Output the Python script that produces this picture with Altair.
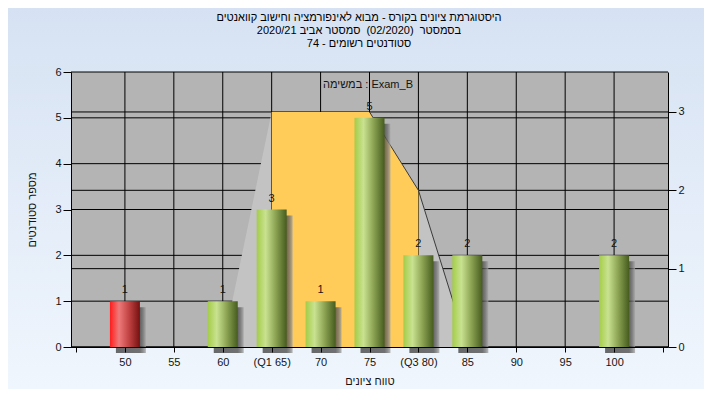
import altair as alt
import pandas as pd

# ---------------- data ----------------
scores = [50, 60, 65, 70, 75, 80, 85, 100]
counts = [1, 1, 3, 1, 5, 2, 2, 2]
is_fail = [True, False, False, False, False, False, False, False]

x_tick_values = [45, 50, 55, 60, 65, 70, 75, 80, 85, 90, 95, 100, 105]
x_tick_labels = ["", "50", "55", "60", "(Q1 65)", "70", "75", "(Q3 80)", "85", "90", "95", "100", ""]
x_grid_values = [50, 55, 60, 65, 70, 75, 80, 85, 90, 95, 100]
left_ticks = [0, 1, 2, 3, 4, 5, 6]
right_ticks = [0, 1, 2, 3]

# distribution overlay (right axis units)
spread_x = [60, 65, 75, 80, 85]
spread_y = [0, 3, 3, 2, 0]
iqr_x = [65, 75, 80]
iqr_y = [3, 3, 2]
edge_x = [75, 80, 85]
edge_y = [3, 2, 0]

title_lines = [
    "היסטוגרמת ציונים בקורס - מבוא לאינפורמציה וחישוב קוואנטים",
    "בסמסטר\u00a0 (02/2020)\u00a0 סמסטר אביב 2020/21",
    "סטודנטים רשומים - 74",
]
x_title = "טווח ציונים"
y_title = "מספר סטודנטים"
task_text = "במשימה : Exam_B"

# ---------------- styling ----------------
W, H = 597, 275
PAD = {"left": 63, "top": 64, "right": 36, "bottom": 42}
FONT = "Liberation Sans"
FS = 11
INK = "#141414"

bg_grad = alt.LinearGradient(
    gradient="linear", x1=0, x2=0, y1=0, y2=1,
    stops=[alt.GradientStop(offset=0, color="#d6e2f3"),
           alt.GradientStop(offset=1, color="#f0f6fd")])
red_grad = alt.LinearGradient(
    gradient="linear", x1=0, x2=1, y1=0, y2=0,
    stops=[alt.GradientStop(offset=0, color="#ff1c1c"),
           alt.GradientStop(offset=0.3, color="#ee7a7a"),
           alt.GradientStop(offset=0.65, color="#bf4040"),
           alt.GradientStop(offset=1, color="#741010")])
green_grad = alt.LinearGradient(
    gradient="linear", x1=0, x2=1, y1=0, y2=0,
    stops=[alt.GradientStop(offset=0, color="#a4cc48"),
           alt.GradientStop(offset=0.3, color="#c9e291"),
           alt.GradientStop(offset=0.65, color="#88a050"),
           alt.GradientStop(offset=1, color="#465c1e")])
shadow_grad = alt.LinearGradient(
    gradient="linear", x1=0, x2=1, y1=0, y2=0,
    stops=[alt.GradientStop(offset=0, color="#3a3a3a"),
           alt.GradientStop(offset=0.8, color="#454545"),
           alt.GradientStop(offset=0.9, color="#6c6c6c"),
           alt.GradientStop(offset=1, color="#a6a6a6")])

label_expr = "''"
for v, l in zip(reversed(x_tick_values), reversed(x_tick_labels)):
    label_expr = f"datum.value == {v} ? '{l}' : ({label_expr})"

xscale = alt.Scale(domain=[45, 105], nice=False, zero=False)
xaxis = alt.Axis(values=x_tick_values, labelExpr=label_expr, title=x_title,
                 grid=False, zindex=1, tickSize=5, labelPadding=4, titlePadding=8,
                 labelOverlap=False, labelFlush=False)
lscale = alt.Scale(domain=[0, 6], nice=False)
laxis = alt.Axis(values=left_ticks, orient="left", title=y_title, grid=False,
                 zindex=1, tickSize=8, labelPadding=2, titlePadding=17, format="d")
rscale = alt.Scale(domain=[0, 3.51], nice=False)
raxis = alt.Axis(values=right_ticks, orient="right", title=None, grid=False,
                 zindex=1, tickSize=8, labelPadding=2, format="d")

one = alt.Data(values=[{"k": 1}])

# ---------------- layer group 1: backgrounds + left grid ----------------
bg = alt.Chart(one).mark_rect(fill=bg_grad).encode(
    x=alt.value(-PAD["left"]), x2=alt.value(W + PAD["right"]),
    y=alt.value(-PAD["top"]), y2=alt.value(H + PAD["bottom"]))
plot_bg = alt.Chart(one).mark_rect(fill="#b4b4b4").encode(
    x=alt.value(0), x2=alt.value(W), y=alt.value(0), y2=alt.value(H))
hgrid_l = alt.Chart(pd.DataFrame({"v": left_ticks})).mark_rule(
    color="black", strokeWidth=1).encode(
    y=alt.Y("v:Q", scale=lscale, axis=laxis), x=alt.value(0), x2=alt.value(W))
g1 = alt.layer(bg, plot_bg, hgrid_l)

# ---------------- layer group 2: right axis overlay ----------------
hgrid_r = alt.Chart(pd.DataFrame({"r": right_ticks})).mark_rule(
    color="black", strokeWidth=1).encode(
    y=alt.Y("r:Q", scale=rscale, axis=raxis), x=alt.value(0), x2=alt.value(W))
spread = alt.Chart(pd.DataFrame({"sx": spread_x, "sy": spread_y})).mark_area(
    color="#c3c3c3", orient="vertical", opacity=1).encode(
    x=alt.X("sx:Q", scale=xscale, axis=xaxis),
    y=alt.Y("sy:Q", scale=rscale, axis=raxis))
vgrid = alt.Chart(pd.DataFrame({"gx": x_grid_values})).mark_rule(
    color="black", strokeWidth=1).encode(
    x=alt.X("gx:Q", scale=xscale, axis=xaxis), y=alt.value(0), y2=alt.value(H))
iqr = alt.Chart(pd.DataFrame({"sx": iqr_x, "sy": iqr_y})).mark_area(
    color="#ffcc5a", orient="vertical", opacity=1).encode(
    x=alt.X("sx:Q", scale=xscale, axis=xaxis),
    y=alt.Y("sy:Q", scale=rscale, axis=raxis))
edge = alt.Chart(pd.DataFrame({"sx": edge_x, "sy": edge_y})).mark_line(
    color="#3a3a3a", strokeWidth=1).encode(
    x=alt.X("sx:Q", scale=xscale, axis=xaxis),
    y=alt.Y("sy:Q", scale=rscale, axis=raxis))
g2 = alt.layer(hgrid_r, spread, vgrid, iqr, edge)

# ---------------- layer group 3: bars and texts ----------------
bars_df = pd.DataFrame({"score": scores, "count": counts, "fail": is_fail})
base = alt.Chart(bars_df)
enc = dict(x=alt.X("score:Q", scale=xscale, axis=xaxis),
           y=alt.Y("count:Q", scale=lscale, axis=None))
shadow = base.mark_bar(width=30, orient="vertical", fill=shadow_grad, opacity=0.75,
                       xOffset=6, yOffset=6, y2Offset=5).encode(**enc)
bars_fail = base.mark_bar(width=30, orient="vertical", fill=red_grad).encode(
    **enc).transform_filter("datum.fail")
bars_pass = base.mark_bar(width=30, orient="vertical", fill=green_grad).encode(
    **enc).transform_filter("!datum.fail")
values_txt = base.mark_text(font=FONT, fontSize=FS, color=INK, baseline="bottom",
                            dy=-6).encode(text="count:Q", **enc)

task = alt.Chart(alt.Data(values=[{"t": task_text}])).mark_text(
    font=FONT, fontSize=FS, color=INK, align="center", baseline="middle").encode(
    text="t:N", x=alt.value(297), y=alt.value(13))
title_txt = alt.Chart(alt.Data(values=[{"t": "\n".join(title_lines)}])).mark_text(
    font=FONT, fontSize=FS, color="#000000", align="center", baseline="alphabetic",
    lineBreak="\n", lineHeight=13).encode(
    text="t:N", x=alt.value(288), y=alt.value(-51))
g3 = alt.layer(shadow, bars_fail, bars_pass, values_txt, task, title_txt)

chart = alt.layer(g1, g2, g3).resolve_scale(y="independent").properties(
    width=W, height=H, padding=PAD, autosize="none", background="#e4edf8"
).configure_view(strokeWidth=0).configure_axis(
    labelFont=FONT, labelFontSize=FS, labelColor=INK,
    titleFont=FONT, titleFontSize=FS, titleColor=INK, titleFontWeight="normal",
    domainColor="black", tickColor="black", domainWidth=1, tickWidth=1,
)

chart.save("out.html", embed_options={"renderer": "svg", "actions": False})
